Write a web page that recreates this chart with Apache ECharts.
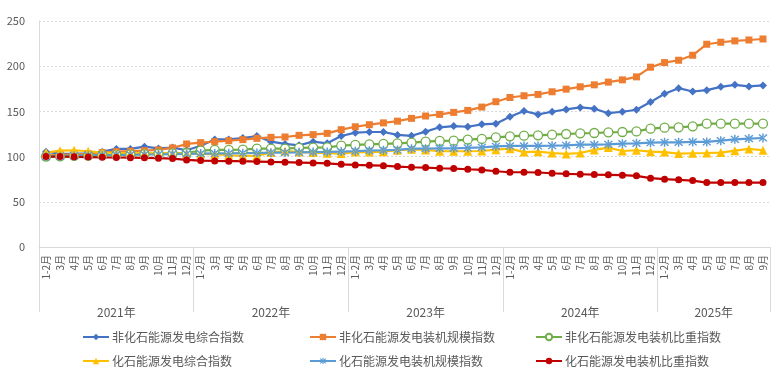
<!DOCTYPE html>
<html>
<head>
<meta charset="utf-8">
<script src="https://cdn.jsdelivr.net/npm/echarts@6/dist/echarts.min.js"></script>
<style>html,body{margin:0;padding:0;background:#fff}#c{width:784px;height:387px}</style>
</head>
<body>
<div id="c"></div>
<script>
var years = ['2021年', '2022年', '2023年', '2024年', '2025年'];
var yearMonths = [
  ['1-2月','3月','4月','5月','6月','7月','8月','9月','10月','11月','12月'],
  ['1-2月','3月','4月','5月','6月','7月','8月','9月','10月','11月','12月'],
  ['1-2月','3月','4月','5月','6月','7月','8月','9月','10月','11月','12月'],
  ['1-2月','3月','4月','5月','6月','7月','8月','9月','10月','11月','12月'],
  ['1-2月','3月','4月','5月','6月','7月','8月','9月']
];
var seriesNames = ['非化石能源发电综合指数','非化石能源发电装机规模指数','非化石能源发电装机比重指数','化石能源发电综合指数','化石能源发电装机规模指数','化石能源发电装机比重指数'];
var nonFossilGen = [105.5,103,103,103.7,105.5,108.5,108.5,111,109,110,107, 112,119,119,120.6,122.8,116.5,114,112.5,116.5,114.7,122.8, 126.5,127.2,127.2,124,123,127.6,132.4,133.8,133,135.7,136.4, 144,150.4,146.7,149.6,152.2,154.4,153,148,149.6,151.8,160.3, 169.5,175.7,172,173.5,177.2,179.4,177.6,178.7];
var nonFossilCap = [101,102,102.5,103,104.4,105.5,106,106.6,107.4,109.6,114, 115.4,116.5,117.6,118.8,120.2,121.3,121.7,123.5,124.3,125.7,129.8, 133,135.3,137.3,139.2,142.3,144.9,146.7,148.9,151.1,154.8,160.7, 165.4,167.3,168.8,171.7,174.6,177.2,179.4,182.4,184.9,188.2,198.9, 204,206.6,212.1,224.3,226.5,228,229,230.1];
var nonFossilShare = [100,100.4,100.8,101.2,101.6,102,102.4,102.8,103.2,103.6,104, 106.6,107.4,107.4,107.7,108.8,108.8,108.8,109.6,110,110.3,112.1, 112.9,113.6,114,114.7,115.4,116.5,117.3,117.6,118.8,119.5,121.3, 122.4,123.2,123.5,124.3,125,125.7,126.1,126.8,127.2,127.9,130.9, 132,132.4,133.5,136.4,136.4,136.4,136.4,136.4];
var fossilGen = [104.4,106.6,107,105.9,104.4,104,103.8,103.6,103.5,103.4,103.3, 103,102.6,101.5,100.7,101,104.4,106.2,105,104.4,103.7,103.3, 105,105,105.5,107,108,107.4,105.9,105.9,105.9,106.2,107.7, 108.8,105,105.5,104,103,104,107.4,110,106.2,107,105.5, 105,103.3,103.7,104,104.4,106.6,108.5,107];
var fossilCap = [100,100.5,101,101.3,101.5,101.8,102,102.3,102.5,102.8,103, 103.3,103.5,103.6,103.8,104,104.3,104.5,104.7,105,105.2,105.6, 106,106.5,107,107.4,108.8,108.8,109.2,109.2,109.6,110.3,111.4, 111.8,111.8,111.8,112.1,112.5,113.2,113.2,113.6,114.3,114.7,115.4, 115.8,115.8,116.2,116.2,117.6,119.1,119.9,120.6];
var fossilShare = [100,100,99.8,99.5,99.2,99,98.8,98.6,98.3,97.8,96.3, 95.6,95.2,94.9,94.9,94.5,94.1,93.8,93.4,93,92.6,91.5, 90.8,90.4,90,89,88.2,87.9,87.1,86.8,86,85.3,83.8, 82.7,82.7,82.4,81.6,80.9,80.5,80.1,79.8,79.4,78.7,76.1, 75,74.3,73.5,71.3,71.3,71.3,71.3,71.3];
var yTicks = [0, 50, 100, 150, 200, 250];

// build categories and group boundaries
var categories = [];
var bounds = [0];
var centers = [];
yearMonths.forEach(function (ms) {
  var start = categories.length;
  ms.forEach(function (m) { categories.push(m); });
  bounds.push(categories.length);
  centers.push((start + categories.length) / 2);
});

var FONT = '"Noto Sans CJK SC", "Noto Sans", sans-serif';
var colors = ['#4472C4', '#ED7D31', '#70AD47', '#FFC000', '#5B9BD5', '#C00000'];
var starPath = 'path://M-0.7,-5L0.7,-5L0.7,5L-0.7,5Z M-4.3,-3.3L-3.3,-4.3L4.3,3.3L3.3,4.3Z M4.3,-3.3L3.3,-4.3L-4.3,3.3L-3.3,4.3Z';
var symbols = ['diamond', 'rect', 'circle', 'triangle', starPath, 'circle'];
var sizes = [8, 7, 9, 9, 9, 7];
var legendSizes = [7, 6, 7, 8, 7, 6];
var datas = [nonFossilGen, nonFossilCap, nonFossilShare, fossilGen, fossilCap, fossilShare];

var series = datas.map(function (d, i) {
  return {
    name: seriesNames[i],
    type: 'line',
    data: d,
    symbol: symbols[i],
    symbolSize: sizes[i],
    showAllSymbol: true,
    lineStyle: { width: 2.2, color: colors[i] },
    itemStyle: i === 2 ? { color: '#fff', borderColor: colors[i], borderWidth: 1.3 } : { color: colors[i], borderWidth: 0 },
    color: colors[i],
    emphasis: { disabled: true },
    animation: false
  };
});

function legend(idx, left) {
  return {
    orient: 'vertical',
    left: left,
    top: 326,
    itemGap: 12,
    itemWidth: 26,
    itemHeight: 8,
    data: idx.map(function (k) {
      return { name: seriesNames[k], itemStyle: {}, symbolSize: legendSizes[k] };
    }),
    textStyle: { fontFamily: FONT, fontSize: 12, color: '#595959', padding: [0, 0, 0, -2] },
    selectedMode: false
  };
}

var chart = echarts.init(document.getElementById('c'), null, { renderer: 'canvas' });
chart.setOption({
  animation: false,
  grid: { left: 39, right: 14, top: 21, bottom: 140, containLabel: false },
  legend: [legend([0, 3], 77), legend([1, 4], 304), legend([2, 5], 530)],
  xAxis: [
    {
      type: 'category',
      data: categories,
      boundaryGap: true,
      axisLine: { lineStyle: { color: '#d9d9d9', width: 1 } },
      axisTick: { show: false },
      axisLabel: {
        interval: 0, rotate: 90, fontSize: 10, color: '#595959', fontFamily: FONT, margin: 8
      }
    },
    {
      type: 'value',
      min: 0,
      max: categories.length,
      position: 'bottom',
      axisLine: { show: false },
      splitLine: { show: false },
      axisTick: { show: true, inside: false, length: 65, customValues: bounds, lineStyle: { color: '#d9d9d9', width: 1 } },
      axisLabel: {
        show: true, customValues: centers, margin: 59, fontSize: 12, color: '#595959', fontFamily: FONT,
        formatter: function (v) { var k = centers.indexOf(v); return k >= 0 ? years[k] : ''; }
      }
    }
  ],
  yAxis: {
    type: 'value',
    min: yTicks[0],
    max: yTicks[yTicks.length - 1],
    interval: 50,
    axisLine: { show: true, lineStyle: { color: '#d9d9d9' } },
    axisTick: { show: false },
    splitLine: { lineStyle: { color: '#d9d9d9', type: [2, 2], width: 1 } },
    axisLabel: { fontSize: 11, color: '#595959', fontFamily: FONT, margin: 14 }
  },
  series: series
});
</script>
</body>
</html>
